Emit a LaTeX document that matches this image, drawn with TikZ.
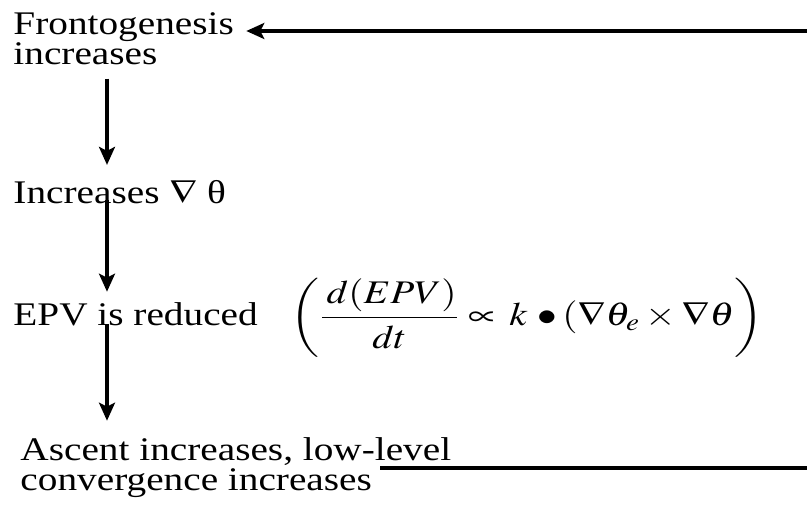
\documentclass[tikz,border=0pt]{standalone}
\usepackage{mathptmx}
\usepackage[no-math]{fontspec}
\setmainfont{Liberation Serif}
\usetikzlibrary{arrows.meta}
\tikzset{
  txt/.style={anchor=base west,inner sep=0pt,align=left,xscale=1.19,transform shape,font=\fontsize{16.5}{15}\selectfont},
  flow/.style={line width=1.7pt,-{Stealth[length=9pt,width=8pt,inset=2pt]}},
  fb/.style={line width=1.7pt}
}

\begin{document}
\begin{tikzpicture}[x=0.5pt,y=-0.5pt]
\useasboundingbox (0,0) rectangle (807,507);
\node[txt] (fg) at (13,65) {Frontogenesis\\increases};
\node[txt] (ig) at (13,204) {Increases $\nabla$ θ};
\node[txt] (epv) at (13,326) {EPV is reduced};
\node[txt] (eq) at (290,326) {$\displaystyle\left(\frac{\,d(EPV)}{dt}\propto\,k\,\bullet(\nabla\theta_e\times\nabla\theta\right)$};
\node[txt] (ai) at (20,490) {Ascent increases, low-level\\convergence increases};
\coordinate (col) at (107,0);
\coordinate (rtop) at (807,31);
\coordinate (rbot) at (807,468);
\draw[flow,shorten <=6.5pt,shorten >=7.5pt] (fg.south -| col) -- (ig.north -| col);
\draw[flow,shorten <=-2.5pt,shorten >=5.5pt] (ig.south -| col) -- (epv.north -| col);
\draw[flow,shorten <=-1.5pt,shorten >=8pt] (epv.south -| col) -- (ai.north -| col);
\draw[flow,shorten >=6pt] (rtop) -- (rtop -| fg.east);
\draw[fb] (rbot) -- ([xshift=180pt]ai.west |- rbot);
\end{tikzpicture}
\end{document}
